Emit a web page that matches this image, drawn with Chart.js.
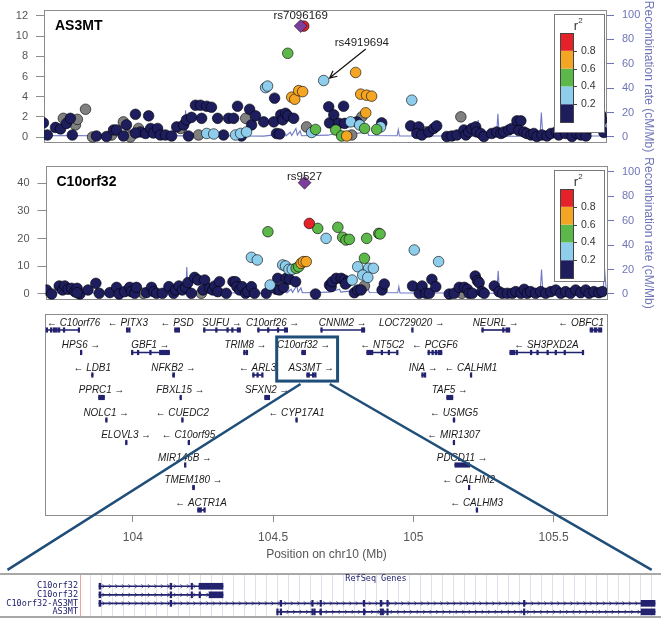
<!DOCTYPE html>
<html>
<head>
<meta charset="utf-8">
<script src="https://cdn.jsdelivr.net/npm/chart.js@4/dist/chart.umd.min.js"></script>
<style>
  html, body { margin: 0; padding: 0; background: #fff; }
  #wrap { position: relative; width: 661px; height: 620px; }
  #wrap canvas { position: absolute; left: 0; top: 0; }
</style>
</head>
<body>
<div id="wrap">
  <canvas id="as3mt-chart" width="661" height="620"></canvas>
  <canvas id="c10orf32-chart" width="661" height="620"></canvas>
  <canvas id="gene-chart" width="661" height="620"></canvas>
  <canvas id="refseq-chart" width="661" height="620"></canvas>
</div>
<script>
// shared genomic window (Mb on chr10)
const xMin = 103.687, xMax = 105.694;
const xTickValues = [104, 104.5, 105, 105.5];
const xTickLabels = ['104', '104.5', '105', '105.5'];

const as3mtTicks = [0, 2, 4, 6, 8, 10, 12];
const c10orf32Ticks = [0, 10, 20, 30, 40];
const recombTicks = [0, 20, 40, 60, 80, 100];

// LD bins
const ldBreaks = [0.2, 0.4, 0.6, 0.8];
const ldColors = ['#1e1e5e', '#8ecdeb', '#5cb848', '#f5a524', '#e5222a'];
const noLdColor = '#808080';
const leadColor = '#7d3f9c';
const recombColor = 'rgba(98,106,192,0.9)';
const recombAxisColor = '#6f74b8';
const navy = '#22226e';

// AS3MT expression association, -log10(p)
const as3mtPos = [
  103.685,103.699,103.728,103.746,103.756,103.767,103.781,103.799,103.806,103.788,
  103.835,103.860,103.874,103.910,103.928,103.935,103.946,103.970,103.981,103.970,
  103.988,103.995,104.013,104.024,104.031,104.013,104.049,104.060,104.067,104.077,
  104.092,104.102,104.120,104.142,104.160,104.174,104.185,104.195,104.202,104.213,
  104.227,104.245,104.249,104.238,104.267,104.292,104.267,104.284,104.306,104.327,
  104.345,104.363,104.370,104.377,104.388,104.391,104.409,104.406,104.420,104.427,
  104.441,104.470,104.477,104.484,104.509,104.506,104.516,104.527,104.531,104.538,
  104.548,104.556,104.577,104.556,104.570,104.581,104.595,104.609,104.613,104.623,
  104.641,104.655,104.684,104.702,104.705,104.720,104.755,104.738,104.759,104.727,
  104.748,104.766,104.784,104.780,104.798,104.802,104.816,104.837,104.855,104.834,
  104.820,104.812,104.830,104.873,104.887,104.891,104.998,104.994,105.023,105.016,
  105.034,105.048,105.059,105.076,105.087,105.123,105.141,105.159,105.173,105.184,
  105.191,105.201,105.212,105.226,105.230,105.244,105.255,105.283,105.301,105.316,
  105.326,105.344,105.355,105.373,105.387,105.380,105.398,105.408,105.423,105.433,
  105.444,105.462,105.480,105.494,105.512,105.522,105.533,105.547,105.569,105.587,
  105.601,105.619,105.630,105.647,105.662,105.672,105.676,105.683
];
const as3mtLogP = [
  1.4,0.2,0.95,0.8,1.85,1.35,1.85,1.2,1.75,0.2,
  2.75,0.0,0.1,0.05,0.2,0.7,0.7,1.5,1.2,0.1,
  0.2,0.0,2.25,0.85,0.5,0.4,0.35,2.1,0.85,0.4,
  0.85,0.2,0.2,0.1,1.0,0.85,1.2,1.7,0.1,1.95,
  3.15,3.15,1.85,0.2,0.35,0.3,3.05,2.95,1.85,0.2,
  1.85,1.85,0.2,3.05,0.35,0.1,0.5,1.85,2.75,1.2,
  2.1,1.5,4.9,5.05,3.85,1.5,0.35,0.3,2.2,1.7,
  2.35,2.1,1.85,8.3,3.95,3.75,4.6,4.5,11.0,1.0,
  0.45,0.75,5.6,3.0,1.4,2.2,3.05,1.35,1.35,0.7,
  0.1,0.1,0.2,1.5,6.4,1.5,4.25,4.15,4.05,2.4,
  2.0,1.2,0.85,0.75,1.0,1.4,3.65,1.1,1.0,0.35,
  0.2,0.5,0.5,0.85,1.1,0.05,0.1,0.2,2.0,0.7,
  0.2,0.5,0.85,1.0,0.5,0.35,0.05,0.35,0.5,0.35,
  0.5,0.7,0.85,1.6,1.6,0.65,0.5,0.35,0.2,0.35,
  0.05,0.2,0.1,0.35,0.5,0.2,0.85,0.35,0.05,0.35,
  0.2,0.1,0.85,1.2,1.4,2.2,1.7,0.45
];
const as3mtR2 = [
  0.1,0.1,0.1,0.1,null,0.1,0.1,null,null,0.1,
  null,null,0.1,0.1,null,0.1,0.1,null,0.1,0.1,
  null,null,0.1,null,0.1,0.1,0.1,0.1,0.1,0.1,
  0.1,0.1,0.1,0.1,0.1,null,0.1,0.1,0.1,0.1,
  0.1,0.1,0.1,null,0.3,0.3,0.1,0.1,0.1,0.1,
  0.1,0.1,0.3,0.1,0.3,0.1,0.3,null,0.1,0.1,
  0.1,0.1,0.3,0.3,0.1,0.1,0.1,0.1,0.1,0.1,
  0.1,0.1,0.1,0.5,0.7,0.7,0.7,0.7,0.9,null,
  0.3,0.5,0.3,0.1,0.1,0.1,0.1,0.1,0.1,0.5,
  0.5,0.7,null,0.3,0.7,0.1,0.7,0.7,0.7,0.7,
  null,0.3,0.5,0.5,0.3,0.1,0.3,0.1,0.1,0.1,
  0.1,null,0.1,0.1,0.1,0.1,0.1,0.1,null,0.1,
  0.1,0.1,0.1,0.1,0.1,0.1,0.1,0.1,0.1,0.1,
  0.1,0.1,0.1,0.1,0.1,0.1,0.1,0.1,0.1,0.1,
  0.1,0.1,0.1,0.1,0.1,0.1,0.1,0.1,0.1,0.1,
  0.1,0.1,0.1,0.1,0.1,0.1,0.1,0.1
];
const as3mtLeadSnp = 'rs7096169';
const as3mtLeadPos = 104.602;
const as3mtLeadLogP = 11.0;

// C10orf32 expression association, -log10(p)
const c10orf32Pos = [
  103.691,103.709,103.736,103.748,103.756,103.768,103.780,103.792,103.800,103.810,
  103.800,103.839,103.867,103.879,103.917,103.941,103.950,103.970,103.988,103.994,
  104.006,104.012,104.036,104.048,104.066,104.074,104.084,104.105,104.128,104.145,
  104.152,104.164,104.176,104.188,104.196,104.208,104.220,104.232,104.244,104.256,
  104.250,104.274,104.285,104.292,104.309,104.303,104.333,104.357,104.366,104.371,
  104.381,104.390,104.402,104.410,104.423,104.434,104.476,104.490,104.482,104.423,
  104.444,104.517,104.512,104.523,104.538,104.535,104.545,104.547,104.559,104.557,
  104.569,104.581,104.583,104.592,104.601,104.609,104.619,104.630,104.652,104.660,
  104.690,104.702,104.708,104.712,104.726,104.744,104.755,104.767,104.759,104.791,
  104.803,104.815,104.783,104.732,104.749,104.761,104.773,104.835,104.878,104.883,
  104.827,104.803,104.842,104.859,104.821,104.839,104.827,104.890,104.898,104.999,
  105.005,105.023,105.033,105.047,105.059,105.068,105.082,105.092,105.130,105.148,
  105.166,105.175,105.184,105.195,105.201,105.213,105.223,105.231,105.237,105.247,
  105.255,105.291,105.308,105.320,105.338,105.356,105.368,105.386,105.398,105.409,
  105.421,105.439,105.457,105.475,105.493,105.511,105.529,105.546,105.564,105.582,
  105.600,105.618,105.630,105.647,105.665,105.677
];
const c10orf32LogP = [
  1.45,0.0,2.9,1.45,2.9,1.7,2.05,0.85,2.05,0.0,
  0.45,1.45,3.85,0.25,0.5,2.4,0.0,0.85,2.4,0.85,
  0.25,2.4,0.25,0.5,2.4,0.85,0.25,0.25,2.65,0.25,
  1.45,2.9,1.45,2.4,4.1,0.25,6.0,5.05,0.25,5.05,
  1.45,2.05,1.45,2.9,4.45,0.85,0.25,4.45,4.45,2.65,
  1.45,2.65,0.25,0.85,2.65,0.25,0.25,3.25,22.5,13.25,
  12.3,5.65,1.7,1.45,2.4,10.5,10.1,5.65,5.3,8.9,
  8.9,4.45,9.3,9.85,11.1,11.7,11.7,25.5,0.0,23.7,
  20.1,3.25,2.65,4.45,5.65,5.65,5.05,4.45,3.6,0.47,
  1.45,1.45,5.05,24.1,20.5,19.5,19.75,20.1,21.9,21.7,
  12.9,9.85,9.3,9.3,6.85,6.0,2.9,1.45,3.6,2.9,
  15.9,0.25,2.9,0.25,0.25,5.3,2.65,11.7,0.0,0.25,
  2.4,0.25,2.4,1.7,0.25,0.25,6.5,4.8,4.1,0.85,
  0.25,2.9,0.85,0.25,0.25,0.25,0.85,0.25,1.7,0.25,
  0.85,0.25,0.85,0.25,0.85,1.45,0.25,0.85,0.25,1.45,
  0.47,1.45,0.25,0.85,0.47,0.85
];
const c10orf32R2 = [
  0.1,0.1,0.1,0.1,0.1,0.1,0.1,0.1,0.1,0.1,
  0.1,0.1,0.1,0.1,0.1,0.1,0.1,0.1,0.1,0.1,
  0.1,0.1,null,0.1,0.1,0.1,0.1,0.1,0.1,0.1,
  0.1,0.1,0.1,0.1,0.1,0.1,0.1,0.1,null,0.1,
  0.1,0.1,0.1,0.1,0.1,0.1,0.1,0.1,0.1,0.1,
  0.1,0.1,0.1,0.1,0.1,0.1,0.1,0.3,0.5,0.3,
  0.3,0.1,0.1,0.1,0.1,0.3,0.3,0.1,0.1,0.3,
  0.3,0.1,0.5,0.5,0.7,0.7,0.7,0.9,0.1,0.5,
  0.3,0.1,0.1,0.1,0.1,0.1,0.1,0.1,0.1,0.1,
  0.1,0.1,0.3,0.5,0.5,0.5,0.5,0.5,0.5,0.5,
  0.5,0.3,0.3,0.3,0.3,0.3,null,0.1,0.1,0.1,
  0.3,0.1,0.1,0.1,0.1,0.1,0.1,0.3,0.1,0.1,
  0.1,null,0.1,0.1,0.1,0.1,0.1,0.1,0.1,0.1,
  0.1,0.1,0.1,0.1,0.1,0.1,0.1,0.1,0.1,0.1,
  0.1,0.1,0.1,0.1,0.1,0.1,0.1,0.1,0.1,0.1,
  0.1,0.1,0.1,0.1,0.1,0.1
];
const c10orf32LeadSnp = 'rs9527';
const c10orf32LeadPos = 104.613;
const c10orf32LeadLogP = 40.2;

// recombination rate (cM/Mb)
const recombPos = [
  103.687,103.800,103.900,104.000,104.100,104.188,104.192,104.196,104.300,104.400,
  104.470,104.500,104.520,104.525,104.545,104.550,104.565,104.570,104.585,104.590,
  104.600,104.605,104.700,104.738,104.742,104.840,104.845,104.946,104.950,104.954,
  105.100,105.232,105.235,105.238,105.300,105.305,105.310,105.455,105.460,105.465,
  105.600,105.680,105.685,105.692
];
const recombRate = [
  1.0,1.2,0.8,1.0,1.1,0.9,22,1.2,1.0,0.8,
  0.7,1.5,4,1.2,3,1.0,4,1.2,7,1.5,
  5,1.0,1.5,4,1.5,4,1.2,1.0,6,0.8,
  0.8,0.6,14,0.6,0.6,19,0.6,0.6,20,0.6,
  0.8,0.8,21,1.0
];

// genes in the region
const geneNames = [
  'C10orf76','PITX3','PSD','SUFU','C10orf26','CNNM2','LOC729020','NEURL','OBFC1',
  'HPS6','GBF1','TRIM8','C10orf32','NT5C2','PCGF6','SH3PXD2A',
  'LDB1','NFKB2','ARL3','AS3MT','INA','CALHM1',
  'PPRC1','FBXL15','SFXN2','TAF5',
  'NOLC1','CUEDC2','CYP17A1','USMG5',
  'ELOVL3','C10orf95','MIR1307',
  'MIR146B','PDCD11',
  'TMEM180','CALHM2',
  'ACTR1A','CALHM3'
];
const geneStrand = [
  -1,-1,-1,1,1,1,1,1,-1,
  1,1,1,1,-1,-1,-1,
  -1,1,-1,1,1,-1,
  1,1,1,1,
  1,-1,-1,-1,
  1,-1,-1,
  1,1,
  1,-1,
  -1,-1
];
const geneRow = [
  1,1,1,1,1,1,1,1,1,
  2,2,2,2,2,2,2,
  3,3,3,3,3,3,
  4,4,4,4,
  5,5,5,5,
  6,6,6,
  7,7,
  8,8,
  9,9
];
const geneStart = [
  103.691,103.977,104.149,104.252,104.445,104.670,104.994,105.244,105.630,
  103.813,103.995,104.395,104.602,104.834,105.052,105.344,
  103.853,104.142,104.427,104.620,105.030,105.203,
  103.878,104.168,104.470,105.119,
  103.903,104.174,104.581,105.142,
  103.974,104.197,105.142,
  104.184,105.148,
  104.213,105.196,
  104.231,105.224
];
const geneEnd = [
  103.807,103.988,104.167,104.384,104.552,104.827,104.996,105.344,105.672,
  103.818,104.131,104.409,104.616,104.945,105.102,105.605,
  103.858,104.149,104.463,104.652,105.041,105.207,
  103.899,104.172,104.488,105.141,
  103.908,104.179,104.586,105.148,
  103.979,104.200,105.146,
  104.188,105.201,
  104.220,105.199,
  104.256,105.228
];
// exon blocks; null = whole gene drawn as one block
const geneExons = [
  [[103.691,103.694],[103.706,103.708],[103.716,103.722],[103.724,103.731],[103.734,103.740],[103.752,103.754],[103.805,103.807]],
  [[103.977,103.980],[103.985,103.988]],
  null,
  [[104.252,104.255],[104.295,104.297],[104.335,104.338],[104.352,104.355],[104.372,104.384]],
  [[104.445,104.448],[104.480,104.482],[104.515,104.518],[104.540,104.552]],
  [[104.670,104.673],[104.815,104.818],[104.821,104.827]],
  null,
  [[105.244,105.246],[105.318,105.322],[105.330,105.344]],
  [[105.630,105.640],[105.645,105.655],[105.660,105.672]],
  null,
  [[103.995,103.998],[104.016,104.018],[104.060,104.063],[104.095,104.131]],
  [[104.395,104.400],[104.404,104.409]],
  null,
  [[104.834,104.856],[104.885,104.888],[104.910,104.913],[104.940,104.945]],
  [[105.052,105.056],[105.066,105.069],[105.078,105.081],[105.088,105.102]],
  [[105.344,105.362],[105.366,105.369],[105.417,105.420],[105.440,105.443],[105.476,105.479],[105.505,105.508],[105.537,105.540],[105.602,105.605]],
  null,
  null,
  [[104.427,104.431],[104.442,104.446],[104.459,104.463]],
  [[104.620,104.630],[104.640,104.642],[104.648,104.652]],
  [[105.030,105.032],[105.039,105.041]],
  null,
  null, null, null, null,
  null, null, null, null,
  null, null, null,
  null, null,
  null, null,
  [[104.231,104.245],[104.253,104.256]],
  null
];

// RefSeq transcripts in the zoomed window (kb on chr10)
const refseqNames = ['C10orf32', 'C10orf32', 'C10orf32-AS3MT', 'AS3MT'];
const refseqTxStart = [104614.04, 104614.04, 104614.04, 104629.27];
const refseqTxEnd = [104624.67, 104624.67, 104661.69, 104661.69];
const refseqExonRow = [
  1,1,1,1,
  2,2,2,2,2,
  3,3,3,3,3,3,3,3,3,3,
  4,4,4,4,4,4,4,4,4,4,4
];
const refseqExonStart = [
  104614.04,104620.13,104621.93,104622.61,
  104614.04,104620.13,104621.93,104622.61,104623.47,
  104614.04,104620.13,104629.56,104632.27,104632.98,104636.69,104638.13,104638.70,104650.41,104660.49,
  104629.27,104629.56,104632.27,104632.45,104632.98,104636.69,104638.13,104638.30,104638.70,104650.41,104660.49
];
const refseqExonEnd = [
  104614.20,104620.28,104622.06,104624.67,
  104614.20,104620.28,104622.06,104622.72,104624.67,
  104614.20,104620.28,104629.70,104632.40,104633.10,104636.80,104638.28,104638.81,104650.51,104661.69,
  104629.40,104629.70,104632.40,104632.55,104633.11,104636.80,104638.25,104638.38,104638.81,104650.51,104661.69
];
const refseqGridStart = 104613.33, refseqGridStep = 0.943;

// zoom box around C10orf32 / AS3MT and the lines down to the RefSeq view
const zoomBoxPos = [104.513, 104.730];
const zoomBoxRows = [1.31, 3.27];
const zoomLinePos = [104.598, 104.702];
const zoomLineRow = 3.40;
const refseqViewEdges = [104606.2, 104661.4];
const refseqViewRow = -0.92;

const fontFamily = '"Liberation Sans", Arial, sans-serif';
Chart.defaults.font.family = fontFamily;

// keep tick-label overhang from shrinking the plot area
function noOverhang(s) {
  s.paddingTop = 0;
  s.paddingBottom = 0;
}

function ldBin(r2) {
  if (r2 === null) return null;
  let b = 0;
  while (b < ldBreaks.length && r2 >= ldBreaks[b]) b++;
  return b;
}

function drawLdLegend(ctx, a, h) {
  const w = 50, x = Math.round(a.right) - 53, y = Math.round(a.top) + 4;
  ctx.fillStyle = '#fff';
  ctx.fillRect(x, y, w, h);
  ctx.strokeStyle = '#7a7a7a';
  ctx.lineWidth = 1;
  ctx.strokeRect(x + 0.5, y + 0.5, w, h);
  ctx.fillStyle = '#333';
  ctx.textAlign = 'center';
  ctx.textBaseline = 'middle';
  ctx.font = '13px ' + fontFamily;
  ctx.fillText('r', x + 22, y + 12);
  ctx.font = '8px ' + fontFamily;
  ctx.fillText('2', x + 26.5, y + 6.5);
  const bx = x + 6, by = y + 19, bw = 13, bh = 89, seg = bh / ldColors.length;
  ldColors.forEach((c, i) => {
    ctx.fillStyle = c;
    ctx.fillRect(bx, by + bh - (i + 1) * seg, bw, seg);
  });
  ctx.strokeStyle = '#444';
  ctx.strokeRect(bx + 0.5, by + 0.5, bw, bh);
  ctx.font = '10.5px ' + fontFamily;
  ctx.textAlign = 'left';
  ctx.fillStyle = '#333';
  ldBreaks.forEach((b, i) => {
    const ty = Math.round(by + bh - (i + 1) * seg) + 0.5;
    ctx.beginPath();
    ctx.moveTo(bx + bw, ty);
    ctx.lineTo(bx + bw + 4, ty);
    ctx.stroke();
    ctx.fillText(b.toFixed(1), bx + bw + 8, ty);
  });
}

function assocDecor(cfg) {
  return {
    id: 'assocDecor',
    beforeDatasetsDraw(chart) {
      const { ctx, chartArea: a } = chart;
      ctx.save();
      ctx.strokeStyle = '#8c8c8c';
      ctx.lineWidth = 1;
      ctx.strokeRect(Math.round(a.left) + 0.5, Math.round(a.top) + 0.5, Math.round(a.right - a.left) - 1, Math.round(a.bottom - a.top) - 1);
      ctx.restore();
    },
    afterDatasetsDraw(chart) {
      const { ctx, chartArea: a, scales } = chart;
      const xs = scales.x, ys = scales.y;
      ctx.save();
      ctx.fillStyle = '#000';
      ctx.font = 'bold 14px ' + fontFamily;
      ctx.textAlign = 'left';
      ctx.textBaseline = 'middle';
      ctx.fillText(cfg.title, a.left + 11, a.top + 16);
      ctx.font = '11.5px ' + fontFamily;
      ctx.textAlign = 'center';
      ctx.fillStyle = '#222';
      cfg.notes.forEach(n => ctx.fillText(n.text, xs.getPixelForValue(n.x), ys.getPixelForValue(n.y)));
      if (cfg.arrow) {
        const x1 = xs.getPixelForValue(cfg.arrow.from[0]), y1 = ys.getPixelForValue(cfg.arrow.from[1]);
        const x2 = xs.getPixelForValue(cfg.arrow.to[0]), y2 = ys.getPixelForValue(cfg.arrow.to[1]);
        const ang = Math.atan2(y2 - y1, x2 - x1);
        ctx.strokeStyle = '#111';
        ctx.lineWidth = 1.2;
        ctx.beginPath();
        ctx.moveTo(x1, y1);
        ctx.lineTo(x2, y2);
        ctx.moveTo(x2 - 8 * Math.cos(ang - 0.45), y2 - 8 * Math.sin(ang - 0.45));
        ctx.lineTo(x2, y2);
        ctx.lineTo(x2 - 8 * Math.cos(ang + 0.45), y2 - 8 * Math.sin(ang + 0.45));
        ctx.stroke();
      }
      drawLdLegend(ctx, a, cfg.legendHeight);
      ctx.restore();
    }
  };
}

function assocPanel(canvasId, cfg) {
  const datasets = [];
  [null, 0, 1, 2, 3, 4].forEach((bin, gi) => {
    const pts = [];
    cfg.pos.forEach((p, i) => {
      if (ldBin(cfg.r2[i]) === bin) pts.push({ x: p, y: cfg.logp[i] });
    });
    datasets.push({
      type: 'scatter',
      data: pts,
      yAxisID: 'y',
      backgroundColor: bin === null ? noLdColor : ldColors[bin],
      borderColor: 'rgba(0,0,0,0.75)',
      borderWidth: 0.8,
      pointRadius: 5.3,
      order: 20 - gi
    });
  });
  datasets.push({
    type: 'scatter',
    data: [{ x: cfg.leadPos, y: cfg.leadLogP }],
    yAxisID: 'y',
    pointStyle: 'rectRot',
    pointRadius: 6.5,
    backgroundColor: leadColor,
    borderColor: 'rgba(0,0,0,0.6)',
    borderWidth: 0.8,
    order: 1
  });
  datasets.push({
    type: 'line',
    data: recombPos.map((p, i) => ({ x: p, y: recombRate[i] })),
    yAxisID: 'y2',
    borderColor: recombColor,
    borderWidth: 1.1,
    pointRadius: 0,
    tension: 0,
    order: 30
  });

  return new Chart(document.getElementById(canvasId), {
    type: 'scatter',
    data: { datasets: datasets },
    options: {
      responsive: false,
      animation: false,
      devicePixelRatio: 1,
      layout: { padding: { top: cfg.top, bottom: 620 - cfg.bottom, left: 0, right: 0 } },
      plugins: { legend: { display: false }, tooltip: { enabled: false } },
      scales: {
        x: { type: 'linear', min: xMin, max: xMax, display: false },
        y: {
          position: 'left',
          min: cfg.yMin,
          max: cfg.yMax,
          afterFit: s => { s.width = cfg.left; noOverhang(s); },
          afterBuildTicks: s => { s.ticks = cfg.ticks.map(v => ({ value: v })); },
          ticks: { color: '#555', font: { size: 11 }, padding: 8, autoSkip: false, callback: v => String(v) },
          grid: { drawOnChartArea: false, tickLength: 8, color: '#8c8c8c' },
          border: { display: false }
        },
        y2: {
          position: 'right',
          min: cfg.rMin,
          max: cfg.rMax,
          afterFit: s => { s.width = 661 - cfg.right; noOverhang(s); },
          afterBuildTicks: s => { s.ticks = recombTicks.map(v => ({ value: v })); },
          ticks: { color: recombAxisColor, font: { size: 11 }, padding: 8, autoSkip: false, callback: v => String(v) },
          grid: { drawOnChartArea: false, tickLength: 7, color: recombAxisColor },
          border: { display: false },
          title: {
            display: true,
            text: 'Recombination rate (cM/Mb)',
            color: recombAxisColor,
            font: { size: 12 },
            padding: { top: 5, bottom: 0 }
          }
        }
      }
    },
    plugins: [assocDecor(cfg)]
  });
}

assocPanel('as3mt-chart', {
  pos: as3mtPos, logp: as3mtLogP, r2: as3mtR2,
  leadPos: as3mtLeadPos, leadLogP: as3mtLeadLogP,
  top: 10, bottom: 143, left: 44, right: 607,
  yMin: -0.595, yMax: 12.595, rMin: -4.92, rMax: 104.1,
  ticks: as3mtTicks,
  title: 'AS3MT',
  notes: [
    { text: as3mtLeadSnp, x: as3mtLeadPos, y: 12.0 },
    { text: 'rs4919694', x: 104.820, y: 9.33 }
  ],
  arrow: { from: [104.834, 8.73], to: [104.705, 5.85] },
  legendHeight: 118
});

assocPanel('c10orf32-chart', {
  pos: c10orf32Pos, logp: c10orf32LogP, r2: c10orf32R2,
  leadPos: c10orf32LeadPos, leadLogP: c10orf32LeadLogP,
  top: 166, bottom: 300, left: 45.5, right: 607,
  yMin: -2.17, yMax: 46.25, rMin: -4.91, rMax: 104.66,
  ticks: c10orf32Ticks,
  title: 'C10orf32',
  notes: [
    { text: c10orf32LeadSnp, x: c10orf32LeadPos, y: 42.4 }
  ],
  arrow: null,
  legendHeight: 111
});

// gene track
const geneBodies = geneNames.map((n, i) => ({ x: [geneStart[i], geneEnd[i]], y: geneRow[i] }));
const geneBlocks = [];
geneNames.forEach((n, i) => {
  const ex = geneExons[i] || [[geneStart[i], geneEnd[i]]];
  ex.forEach(e => geneBlocks.push({ x: [e[0], e[1]], y: geneRow[i] }));
});

const geneDecor = {
  id: 'geneDecor',
  beforeDatasetsDraw(chart) {
    const { ctx, chartArea: a } = chart;
    ctx.save();
    ctx.strokeStyle = '#8c8c8c';
    ctx.lineWidth = 1;
    ctx.strokeRect(Math.round(a.left) + 0.5, Math.round(a.top) + 0.5, Math.round(a.right - a.left) - 1, Math.round(a.bottom - a.top));
    ctx.restore();
  },
  afterDatasetsDraw(chart) {
    const { ctx, chartArea: a, scales } = chart;
    const sx = 0.9;
    ctx.save();
    ctx.font = 'italic 11px ' + fontFamily;
    ctx.fillStyle = '#1a1a1a';
    ctx.textAlign = 'center';
    ctx.textBaseline = 'middle';
    geneNames.forEach((n, i) => {
      const text = geneStrand[i] > 0 ? n + ' \u2192' : '\u2190 ' + n;
      const w = ctx.measureText(text).width * sx;
      let cx = scales.x.getPixelForValue((geneStart[i] + geneEnd[i]) / 2);
      cx = Math.max(a.left + 2 + w / 2, Math.min(a.right - 4 - w / 2, cx));
      const cy = scales.y.getPixelForValue(geneRow[i]) - 7.5;
      ctx.save();
      ctx.translate(cx, cy);
      ctx.scale(sx, 1);
      ctx.fillText(text, 0, 0);
      ctx.restore();
    });
    ctx.restore();
  }
};

const geneChart = new Chart(document.getElementById('gene-chart'), {
  type: 'bar',
  data: {
    datasets: [
      { data: geneBlocks, backgroundColor: navy, barThickness: 4.5, minBarLength: 1.6, grouped: false, barPercentage: 1, categoryPercentage: 1 },
      { data: geneBodies, backgroundColor: navy, barThickness: 1, minBarLength: 1, grouped: false, barPercentage: 1, categoryPercentage: 1 }
    ]
  },
  options: {
    indexAxis: 'y',
    responsive: false,
    animation: false,
    devicePixelRatio: 1,
    layout: { padding: { top: 314, bottom: 58, left: 45, right: 53 } },
    plugins: { legend: { display: false }, tooltip: { enabled: false } },
    scales: {
      x: {
        type: 'linear',
        position: 'bottom',
        min: xMin,
        max: xMax,
        afterFit: s => { s.height = 47; },
        afterBuildTicks: s => { s.ticks = xTickValues.map(v => ({ value: v })); },
        ticks: { color: '#555', font: { size: 12 }, padding: 8, maxRotation: 0, autoSkip: false, callback: (v, i) => xTickLabels[i] },
        grid: { drawOnChartArea: false, tickLength: 7, color: '#8c8c8c' },
        border: { display: false },
        title: { display: true, text: 'Position on chr10 (Mb)', color: '#555', font: { size: 12 }, padding: 0 }
      },
      y: { type: 'linear', reverse: true, offset: false, min: 0.289, max: 9.222, display: false }
    }
  },
  plugins: [geneDecor]
});

// RefSeq view of the zoomed region
const refseqIntrons = refseqNames.map((n, i) => ({ x: [refseqTxStart[i], refseqTxEnd[i]], y: i + 1 }));
const refseqBlocks = refseqExonRow.map((r, i) => ({ x: [refseqExonStart[i], refseqExonEnd[i]], y: r }));

const refseqDecor = {
  id: 'refseqDecor',
  beforeDatasetsDraw(chart) {
    const { ctx, chartArea: a, width, scales } = chart;
    ctx.save();
    ctx.strokeStyle = '#f0a0a0';
    ctx.lineWidth = 1;
    ctx.beginPath();
    ctx.moveTo(Math.round(a.left) - 0.5, a.top);
    ctx.lineTo(Math.round(a.left) - 0.5, a.bottom);
    ctx.stroke();
    ctx.strokeStyle = '#a8a8a8';
    ctx.lineWidth = 2;
    ctx.beginPath();
    ctx.moveTo(0, a.top - 1);
    ctx.lineTo(width, a.top - 1);
    ctx.moveTo(0, a.bottom);
    ctx.lineTo(width, a.bottom);
    ctx.stroke();
    ctx.fillStyle = navy;
    ctx.font = '8.5px "DejaVu Sans Mono", monospace';
    ctx.textAlign = 'center';
    ctx.textBaseline = 'middle';
    ctx.fillText('RefSeq Genes', (a.left + a.right) / 2 + 5, a.top + 3.5);
    ctx.strokeStyle = navy;
    ctx.lineWidth = 0.8;
    refseqNames.forEach((n, i) => {
      const x1 = scales.x.getPixelForValue(refseqTxStart[i]);
      const x2 = scales.x.getPixelForValue(refseqTxEnd[i]);
      const y = scales.y.getPixelForValue(i + 1);
      ctx.beginPath();
      for (let x = x1 + 5; x < x2 - 3; x += 6.5) {
        ctx.moveTo(x - 1.5, y - 2);
        ctx.lineTo(x + 0.5, y);
        ctx.lineTo(x - 1.5, y + 2);
      }
      ctx.stroke();
    });
    ctx.restore();
  },
  afterDraw(chart) {
    const { ctx, scales } = chart;
    const gx = geneChart.scales.x, gy = geneChart.scales.y;
    ctx.save();
    ctx.strokeStyle = '#1f4e79';
    ctx.lineWidth = 3;
    const bx1 = gx.getPixelForValue(zoomBoxPos[0]), bx2 = gx.getPixelForValue(zoomBoxPos[1]);
    const by1 = gy.getPixelForValue(zoomBoxRows[0]), by2 = gy.getPixelForValue(zoomBoxRows[1]);
    ctx.strokeRect(bx1, by1, bx2 - bx1, by2 - by1);
    ctx.lineWidth = 2.5;
    ctx.beginPath();
    [0, 1].forEach(k => {
      ctx.moveTo(gx.getPixelForValue(zoomLinePos[k]), gy.getPixelForValue(zoomLineRow));
      ctx.lineTo(scales.x.getPixelForValue(refseqViewEdges[k]), scales.y.getPixelForValue(refseqViewRow));
    });
    ctx.stroke();
    ctx.restore();
  }
};

new Chart(document.getElementById('refseq-chart'), {
  type: 'bar',
  data: {
    datasets: [
      { data: refseqBlocks, backgroundColor: navy, barThickness: 6, minBarLength: 1.5, grouped: false, barPercentage: 1, categoryPercentage: 1 },
      { data: refseqIntrons, backgroundColor: navy, barThickness: 1, grouped: false, barPercentage: 1, categoryPercentage: 1 }
    ]
  },
  options: {
    indexAxis: 'y',
    responsive: false,
    animation: false,
    devicePixelRatio: 1,
    layout: { padding: { top: 575, bottom: 3, left: 0, right: 0 } },
    plugins: { legend: { display: false }, tooltip: { enabled: false } },
    scales: {
      x: {
        type: 'linear',
        position: 'bottom',
        min: 104612.5,
        max: 104662.2,
        afterFit: s => { s.height = 0; },
        afterBuildTicks: s => {
          const t = [];
          for (let v = refseqGridStart; v < s.max; v += refseqGridStep) t.push({ value: v });
          s.ticks = t;
        },
        ticks: { display: false },
        grid: { drawTicks: false, color: '#dde0ea', lineWidth: 1 },
        border: { display: false }
      },
      y: {
        type: 'linear',
        position: 'left',
        reverse: true,
        offset: false,
        min: -0.32,
        max: 4.6,
        afterFit: s => { s.width = 81; noOverhang(s); },
        afterBuildTicks: s => { s.ticks = refseqNames.map((n, i) => ({ value: i + 1 })); },
        ticks: {
          color: navy,
          font: { family: '"DejaVu Sans Mono", monospace', size: 8.5 },
          padding: 3,
          autoSkip: false,
          callback: (v, i) => refseqNames[i]
        },
        grid: { display: false, drawTicks: false },
        border: { display: false }
      }
    }
  },
  plugins: [refseqDecor]
});
</script>
</body>
</html>
